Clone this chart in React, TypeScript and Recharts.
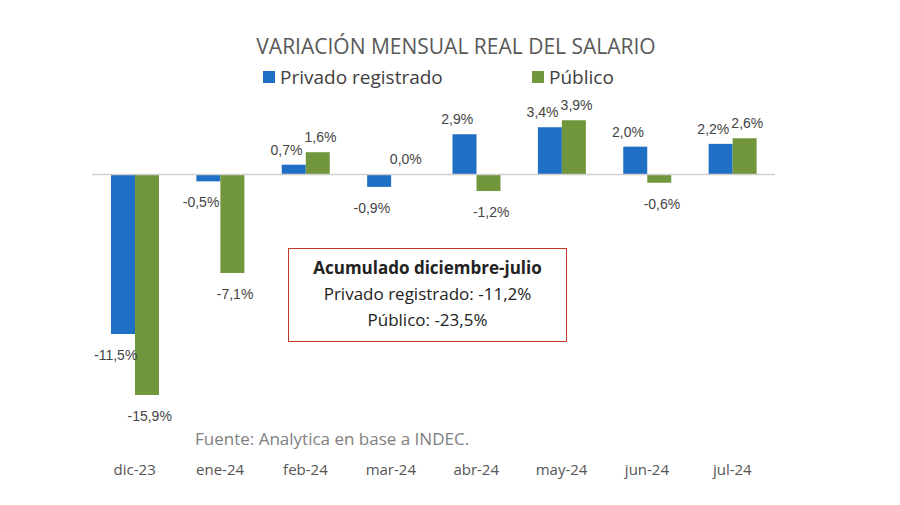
import { ComposedChart, Bar, Line, XAxis, YAxis, ReferenceLine } from "recharts"

const months = ["dic-23", "ene-24", "feb-24", "mar-24", "abr-24", "may-24", "jun-24", "jul-24"]
const privado = [-11.5, -0.5, 0.7, -0.9, 2.9, 3.4, 2.0, 2.2]
const publico = [-15.9, -7.1, 1.6, 0.0, -1.2, 3.9, -0.6, 2.6]

const BLUE = "#1f6fc5"
const GREEN = "#71963c"
const FONT = "'Open Sans', 'DejaVu Sans', sans-serif"

const data = months.map((m, i) => ({ month: m, privado: privado[i], publico: publico[i] }))

const fmt = (v: number) => `${Number(v).toFixed(1).replace(".", ",")}%`

// labels hang off invisible lines so that the 0,0% value is drawn as well
const makeLabel = (shift: number) => (props: any) => {
  const { x, y, value } = props
  const ty = value < 0 ? y + 21 : y - 15
  return (
    <text x={x + shift} y={ty} textAnchor="middle" dominantBaseline="central"
      fontSize={14} fill="#444" fontFamily="'Liberation Sans', Arial, sans-serif">
      {fmt(value)}
    </text>
  )
}

export default function App() {
  return (
    <div style={{ position: "absolute", left: 0, top: 0, width: 900, height: 505, background: "#fff", fontFamily: FONT }}>
      <div style={{ position: "absolute", top: 33, left: 0, width: 912, textAlign: "center", fontSize: 21, color: "#595959", lineHeight: "26px" }}>
        VARIACIÓN MENSUAL REAL DEL SALARIO
      </div>
      <div style={{ position: "absolute", top: 65, left: 263, fontSize: 19, color: "#404040", lineHeight: "24px", display: "flex", alignItems: "center" }}>
        <span style={{ width: 12, height: 12, background: BLUE, display: "inline-block", marginRight: 5 }} />
        Privado registrado
      </div>
      <div style={{ position: "absolute", top: 65, left: 532, fontSize: 19, color: "#404040", lineHeight: "24px", display: "flex", alignItems: "center" }}>
        <span style={{ width: 12, height: 12, background: GREEN, display: "inline-block", marginRight: 5 }} />
        Público
      </div>
      <ComposedChart width={900} height={505} data={data} barSize={24} barGap={0}
        margin={{ top: 105, right: 125, bottom: 23, left: 92 }}>
        <XAxis dataKey="month" axisLine={false} tickLine={false} tickMargin={6}
          tick={{ fontSize: 15, fill: "#555", fontFamily: FONT }} />
        <YAxis hide domain={[-20, 5]} />
        <ReferenceLine y={0} stroke="#d0d0d0" strokeWidth={1.5} />
        <Bar dataKey="privado" fill={BLUE} isAnimationActive={false} />
        <Bar dataKey="publico" fill={GREEN} isAnimationActive={false} />
        <Line dataKey="privado" stroke="none" dot={false} activeDot={false}
          isAnimationActive={false} label={makeLabel(-19)} />
        <Line dataKey="publico" stroke="none" dot={false} activeDot={false}
          isAnimationActive={false} label={makeLabel(15)} />
      </ComposedChart>
      <div style={{ position: "absolute", top: 428, left: 195, fontSize: 17, color: "#7f7f7f", lineHeight: "22px" }}>
        Fuente: Analytica en base a INDEC.
      </div>
      <div style={{ position: "absolute", top: 248, left: 288, width: 277, height: 86, border: "1.5px solid #c0392b", textAlign: "center", color: "#222", fontSize: 17, lineHeight: "26px", paddingTop: 6, boxSizing: "content-box" }}>
        <div style={{ fontWeight: 700 }}>Acumulado diciembre-julio</div>
        <div>Privado registrado: -11,2%</div>
        <div>Público: -23,5%</div>
      </div>
    </div>
  )
}
